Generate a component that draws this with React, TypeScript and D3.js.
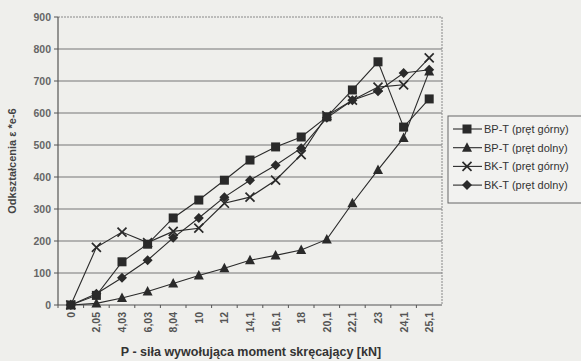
import React from "react";
import * as d3 from "d3";

const categories = ["0", "2,05", "4,03", "6,03", "8,04", "10", "12", "14,1", "16,1", "18", "20,1", "22,1", "23", "24,1", "25,1"];
const bpGorny = [0, 30, 135, 190, 272, 328, 390, 453, 494, 525, 588, 672, 760, 556, 644];
const bpDolny = [0, 5, 22, 42, 67, 92, 115, 140, 155, 172, 205, 318, 422, 522, 730];
const bkGorny = [0, 180, 228, 195, 230, 240, 318, 337, 390, 470, 592, 640, 681, 688, 772];
const bkDolny = [0, 35, 85, 140, 210, 272, 337, 390, 437, 490, 585, 640, 668, 725, 735];
const yTicks = [0, 100, 200, 300, 400, 500, 600, 700, 800, 900];
const seriesNames = ["BP-T (pręt górny)", "BP-T (pręt dolny)", "BK-T (pręt górny)", "BK-T (pręt dolny)"];
const seriesData = [bpGorny, bpDolny, bkGorny, bkDolny];
const markerTypes = ["square", "triangle", "cross", "diamond"];

const W = 581, H = 361;
const M = { left: 58, right: 442, top: 17, bottom: 305 };
const ink = "#2a2a2a";
const font = "Arial, 'Liberation Sans', sans-serif";

function Marker({ type, x, y }: { type: string; x: number; y: number }) {
  if (type === "square") return <rect x={x - 4.5} y={y - 4.5} width={9} height={9} fill={ink} />;
  if (type === "triangle") return <path d={`M${x},${y - 5.5}L${x + 5},${y + 4}L${x - 5},${y + 4}Z`} fill={ink} />;
  if (type === "cross")
    return <path d={`M${x - 4.5},${y - 4.5}L${x + 4.5},${y + 4.5}M${x - 4.5},${y + 4.5}L${x + 4.5},${y - 4.5}`} stroke={ink} strokeWidth={1.7} />;
  return <path d={`M${x},${y - 5}L${x + 5},${y}L${x},${y + 5}L${x - 5},${y}Z`} fill={ink} />;
}

export default function App() {
  const x = d3.scaleBand<string>().domain(categories).range([M.left, M.right]);
  const y = d3.scaleLinear().domain([0, 900]).range([M.bottom, M.top]);
  const cx = (c: string) => (x(c) as number) + x.bandwidth() / 2;
  const line = d3.line<number>().x((_, i) => cx(categories[i])).y((d) => y(d));

  return (
    <svg width={W} height={H} style={{ position: "absolute", left: 0, top: 0, background: "#efefec" }}>
      <rect x={0} y={0} width={W} height={H} fill="#efefec" />
      {yTicks.map((t) => (
        <g key={t}>
          {t > 0 && (
            <line x1={M.left} x2={M.right} y1={y(t)} y2={y(t)} stroke={t === 900 ? "#888" : "#777"}
              strokeWidth={t === 900 ? 1 : 1.1} strokeDasharray={t === 900 ? "2,1" : undefined} />
          )}
          <line x1={M.left - 4} x2={M.left} y1={y(t)} y2={y(t)} stroke="#555" />
          <text x={M.left - 7} y={y(t) + 4} textAnchor="end" fontFamily={font} fontSize={10.5} fontWeight="bold" fill="#666">{t}</text>
        </g>
      ))}
      <line x1={M.right} x2={M.right} y1={M.top} y2={M.bottom} stroke="#888" strokeDasharray="2,1" />
      <line x1={M.left} x2={M.left} y1={M.top} y2={M.bottom} stroke="#555" strokeWidth={1.2} />
      <line x1={M.left} x2={M.right} y1={M.bottom} y2={M.bottom} stroke="#555" strokeWidth={1.2} />
      {categories.map((c) => (
        <g key={c}>
          <line x1={x(c) as number} x2={x(c) as number} y1={M.bottom} y2={M.bottom + 3} stroke="#555" />
          <text transform={`translate(${cx(c) + 4},${M.bottom + 7}) rotate(-90)`} textAnchor="end"
            fontFamily={font} fontSize={10.5} fontWeight="bold" fill="#555">{c}</text>
        </g>
      ))}
      {seriesData.map((s, si) => (
        <g key={si}>
          <path d={line(s) || ""} fill="none" stroke={ink} strokeWidth={1.1} />
          {s.map((v, i) => (
            <Marker key={i} type={markerTypes[si]} x={cx(categories[i])} y={y(v)} />
          ))}
        </g>
      ))}
      <text transform={`translate(16,${(M.top + M.bottom) / 2}) rotate(-90)`} textAnchor="middle"
        fontFamily={font} fontSize={11} fontWeight="bold" fill="#444">Odkształcenia ε *e-6</text>
      <text x={251} y={356} textAnchor="middle" fontFamily={font} fontSize={12.5} fontWeight="bold" fill="#333">
        P - siła wywołująca moment skręcający [kN]
      </text>
      <rect x={448} y={116} width={140} height={87} fill="#f2f2f0" stroke="#666" strokeWidth={1} />
      {seriesNames.map((n, i) => {
        const ly = 129 + i * 18.7;
        return (
          <g key={n}>
            <line x1={453} x2={482} y1={ly} y2={ly} stroke={ink} strokeWidth={1.1} />
            <Marker type={markerTypes[i]} x={467} y={ly} />
            <text x={484} y={ly + 4} fontFamily={font} fontSize={11} fill="#333">{n}</text>
          </g>
        );
      })}
    </svg>
  );
}
